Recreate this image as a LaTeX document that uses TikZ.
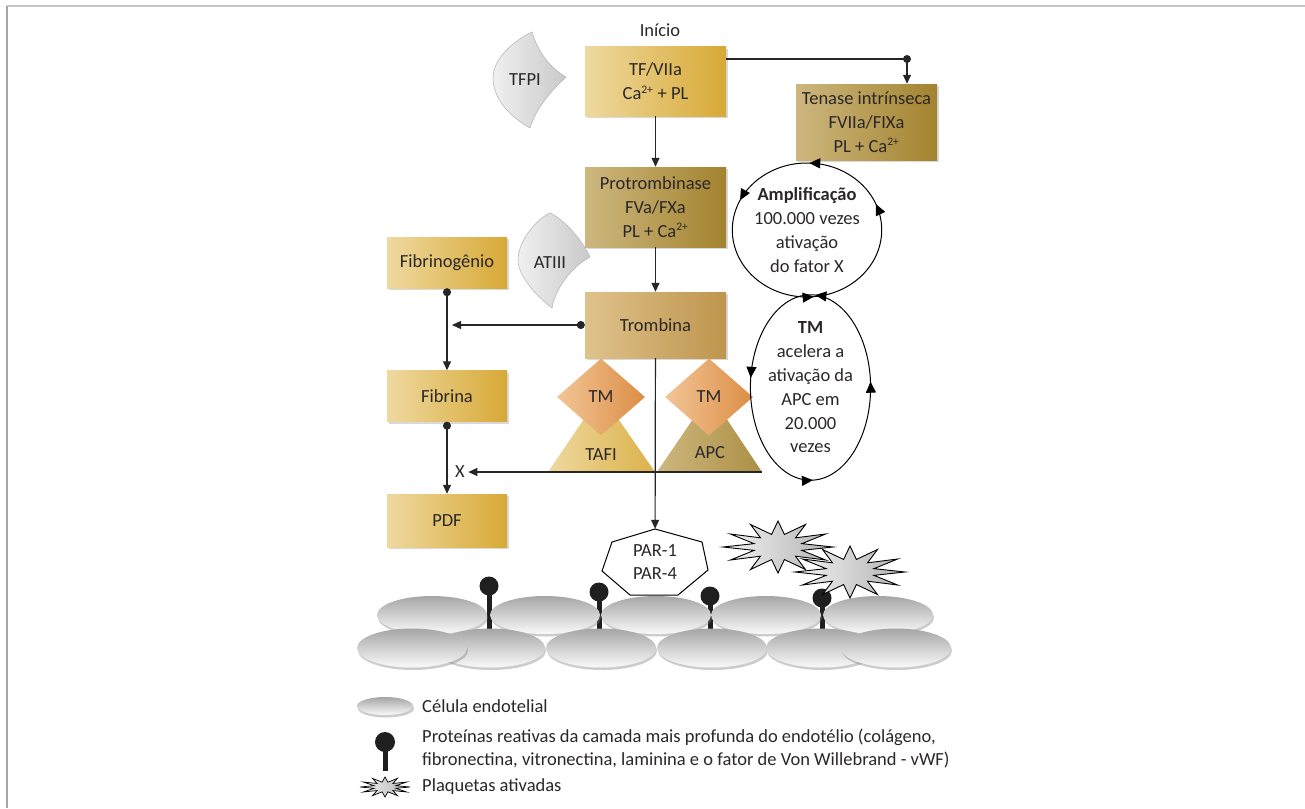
\documentclass[tikz,border=0pt]{standalone}
\usepackage{fontspec}
\setmainfont{Carlito}
\usetikzlibrary{arrows.meta,shapes.geometric,positioning,calc,decorations.markings,shadows}

\definecolor{txt}{HTML}{2B2728}
\definecolor{goldL}{HTML}{EFD9A0}
\definecolor{goldD}{HTML}{D7A936}
\definecolor{oliveL}{HTML}{CDB77F}
\definecolor{oliveD}{HTML}{A3832E}
\definecolor{tanL}{HTML}{DFC28C}
\definecolor{tanD}{HTML}{BE954D}
\definecolor{tmL}{HTML}{F2C596}
\definecolor{tmD}{HTML}{DC8E45}

\newcommand\ion[1]{\textsuperscript{\fontsize{11.5}{11.5}\selectfont #1}}

\tikzset{
  box/.style={rectangle, align=center, minimum width=120pt, minimum height=51pt,
    drop shadow={opacity=0.3, shadow xshift=2pt, shadow yshift=-2pt}},
  goldbox/.style={box, left color=goldL, right color=goldD},
  olivebox/.style={box, left color=oliveL, right color=oliveD},
  tanbox/.style={box, left color=tanL, right color=tanD},
  tmbox/.style={diamond, inner sep=0pt, minimum width=88pt, minimum height=77pt,
    left color=tmL, right color=tmD},
  inhib/.style={left color=gray!12, right color=gray!42, draw=gray!55, line width=0.6pt},
  flow/.style={draw=black!85, line width=1.2pt, -{Triangle[length=9pt,width=8pt]}},
  dotflow/.style={flow, {Circle[length=8pt]}-{Triangle[length=9pt,width=8pt]}},
  loopy/.style n args={4}{ellipse, draw, line width=1pt, align=center, inner sep=0pt,
    postaction={decorate, decoration={markings,
      mark=at position #1 with {\arrow{Triangle[length=11pt,width=10pt]}},
      mark=at position #2 with {\arrow{Triangle[length=11pt,width=10pt]}},
      mark=at position #3 with {\arrow{Triangle[length=11pt,width=10pt]}},
      mark=at position #4 with {\arrow{Triangle[length=11pt,width=10pt]}}}}},
  cell/.style={top color=gray!70, bottom color=gray!4,
    drop shadow={opacity=0.4, shadow xshift=1pt, shadow yshift=-2.5pt}},
  pin/.style={fill=black!88},
  platelet/.style={left color=gray!10, right color=gray!60, draw=black, line width=0.9pt},
  lgd/.style={anchor=west, inner sep=0pt, align=left}
}

\begin{document}
\begin{tikzpicture}[x=1pt, y=-1pt, font=\fontsize{18.5}{23.8}\selectfont,
  every node/.append style={text=txt}]
\useasboundingbox (0,0) rectangle (1305,808);
% open frame
\draw[gray!45, line width=2pt] (7,6) -- (1305,6);
\draw[gray!70, line width=1.5pt] (7,6) -- (7,808);

% endothelium: pins behind the cells
\foreach \px/\py in {489/586, 599/592, 710/596, 822/598} {
  \fill[pin] (\px-2.5,\py) rectangle (\px+2.5,634);
  \fill[pin] (\px,\py) circle (9.5);
}
\foreach \cx in {432,545,656,766,878}
  \path[cell] (\cx,615) ellipse [x radius=55, y radius=19];
\foreach \cx in {490,601,712,821,412,896}
  \path[cell] (\cx,648) ellipse [x radius=55, y radius=19.5];

% activated platelets
\foreach \cx/\cy in {778/547, 850/572}
  \draw[platelet] plot[samples at={0,15,...,345}, variable=\t]
    ({\cx+55*cos(\t)*ifthenelse(mod(\t,30)==0,1,0.45)},
     {\cy+26*sin(\t)*ifthenelse(mod(\t,30)==0,1,0.5)}) -- cycle;

% PAR receptor
\draw[fill=white, line width=1pt] (655,529) -- (702,542) -- (708,570) -- (678,595)
  -- (630,595) -- (602,571) -- (612,542) -- cycle;
\node[minimum height=66pt, align=center, inner sep=0pt] (par) at (655,562) {PAR-1\\PAR-4};

% inhibitors
\path[inhib] (532,32) .. controls (538,52) and (550,68) .. (566,77)
  .. controls (552,90) and (536,108) .. (530,128)
  .. controls (512,118) and (493,100) .. (493,78)
  .. controls (493,58) and (515,40) .. (532,32) -- cycle;
\node (tfpi) at (525,80) {TFPI};
\path[inhib] (550,213) .. controls (565,220) and (582,240) .. (590,257)
  .. controls (575,265) and (556,285) .. (552,308)
  .. controls (535,295) and (518,275) .. (518,260)
  .. controls (518,242) and (535,220) .. (550,213) -- cycle;
\node (atiii) at (550,263) {ATIII};

% cascade
\node (inicio) at (660,30) {Início};
\node[goldbox, minimum width=141pt, minimum height=69pt] (tf) at (655.5,81.5)
  {TF/VIIa\\Ca\ion{2+} + PL};
\node[olivebox, minimum width=141pt, minimum height=76pt] (tenase) at (866.5,122)
  {Tenase intrínseca\\FVIIa/FIXa\\PL + Ca\ion{2+}};
\node[olivebox, minimum width=141pt, minimum height=80pt] (prot) at (655.5,207)
  {Protrombinase\\FVa/FXa\\PL + Ca\ion{2+}};
\node[tanbox, minimum width=141pt, minimum height=66pt] (trombina) at (655.5,325) {Trombina};
\node[goldbox] (fibrinogenio) at (447,262.5) {Fibrinogênio};
\node[goldbox] (fibrina) at (447,396) {Fibrina};
\node[goldbox, minimum height=53pt] (pdf) at (447,520.5) {PDF};

% thrombomodulin complexes
\path[left color=goldL, right color=goldD!90] (548,472) -- (601,394) -- (655,472) -- cycle;
\path[left color=oliveL, right color=oliveD!90] (657,472) -- (710,394) -- (762,472) -- cycle;
\node[tmbox] (tm1) at (601,397) {TM};
\node[tmbox] (tm2) at (709,397) {TM};
\node (tafi) at (601,455) {TAFI};
\node (apc) at (710,453) {APC};

% loops
\node[loopy={0.06}{0.245}{0.43}{0.765}, minimum width=144pt, minimum height=134pt] (amp) at (807,230)
  {\textbf{Amplificação}\\100.000 vezes\\ativação\\do fator X};
\node[loopy={0.012}{0.24}{0.48}{0.755}, minimum width=115pt, minimum height=151pt] (tmloop) at (810.5,387.5)
  {\textbf{TM}\\acelera a\\ativação da\\APC em\\20.000\\vezes};

% connectors
\coordinate (jt) at (907,59);
\draw[flow] (tf.east |- jt) -| (jt |- tenase.north);
\fill[black!85] (jt) circle (4);
\draw[flow] (tf) -- (prot);
\draw[flow] (prot) -- (trombina);
\draw[dotflow] (fibrinogenio) -- (fibrina);
\draw[dotflow] (trombina.west) -- ([xshift=5pt]fibrinogenio.south |- trombina.west);
\draw[dotflow] (fibrina) -- (pdf);
\node (x) at (460,472) {X};
\coordinate (apcr) at (762,472);
\draw[flow] (apcr) -- (x);
\draw[flow] (trombina) -- (par);

% legend
\path[cell] (385,706) ellipse [x radius=28, y radius=9];
\node[lgd] (l1) at (422,706) {Célula endotelial};
\fill[pin] (382.5,742) rectangle (387.5,771);
\fill[pin] (385,742) circle (10);
\node[lgd] (l2) at (422,748.5) {Proteínas reativas da camada mais profunda do endotélio (colágeno,\\fibronectina, vitronectina, laminina e o fator de Von Willebrand - vWF)};
\draw[platelet, line width=0.7pt] plot[samples at={0,15,...,345}, variable=\t]
  ({385+25*cos(\t)*ifthenelse(mod(\t,30)==0,1,0.45)},
   {787+10*sin(\t)*ifthenelse(mod(\t,30)==0,1,0.5)}) -- cycle;
\node[lgd] (l3) at (422,787) {Plaquetas ativadas};
\end{tikzpicture}
\end{document}
